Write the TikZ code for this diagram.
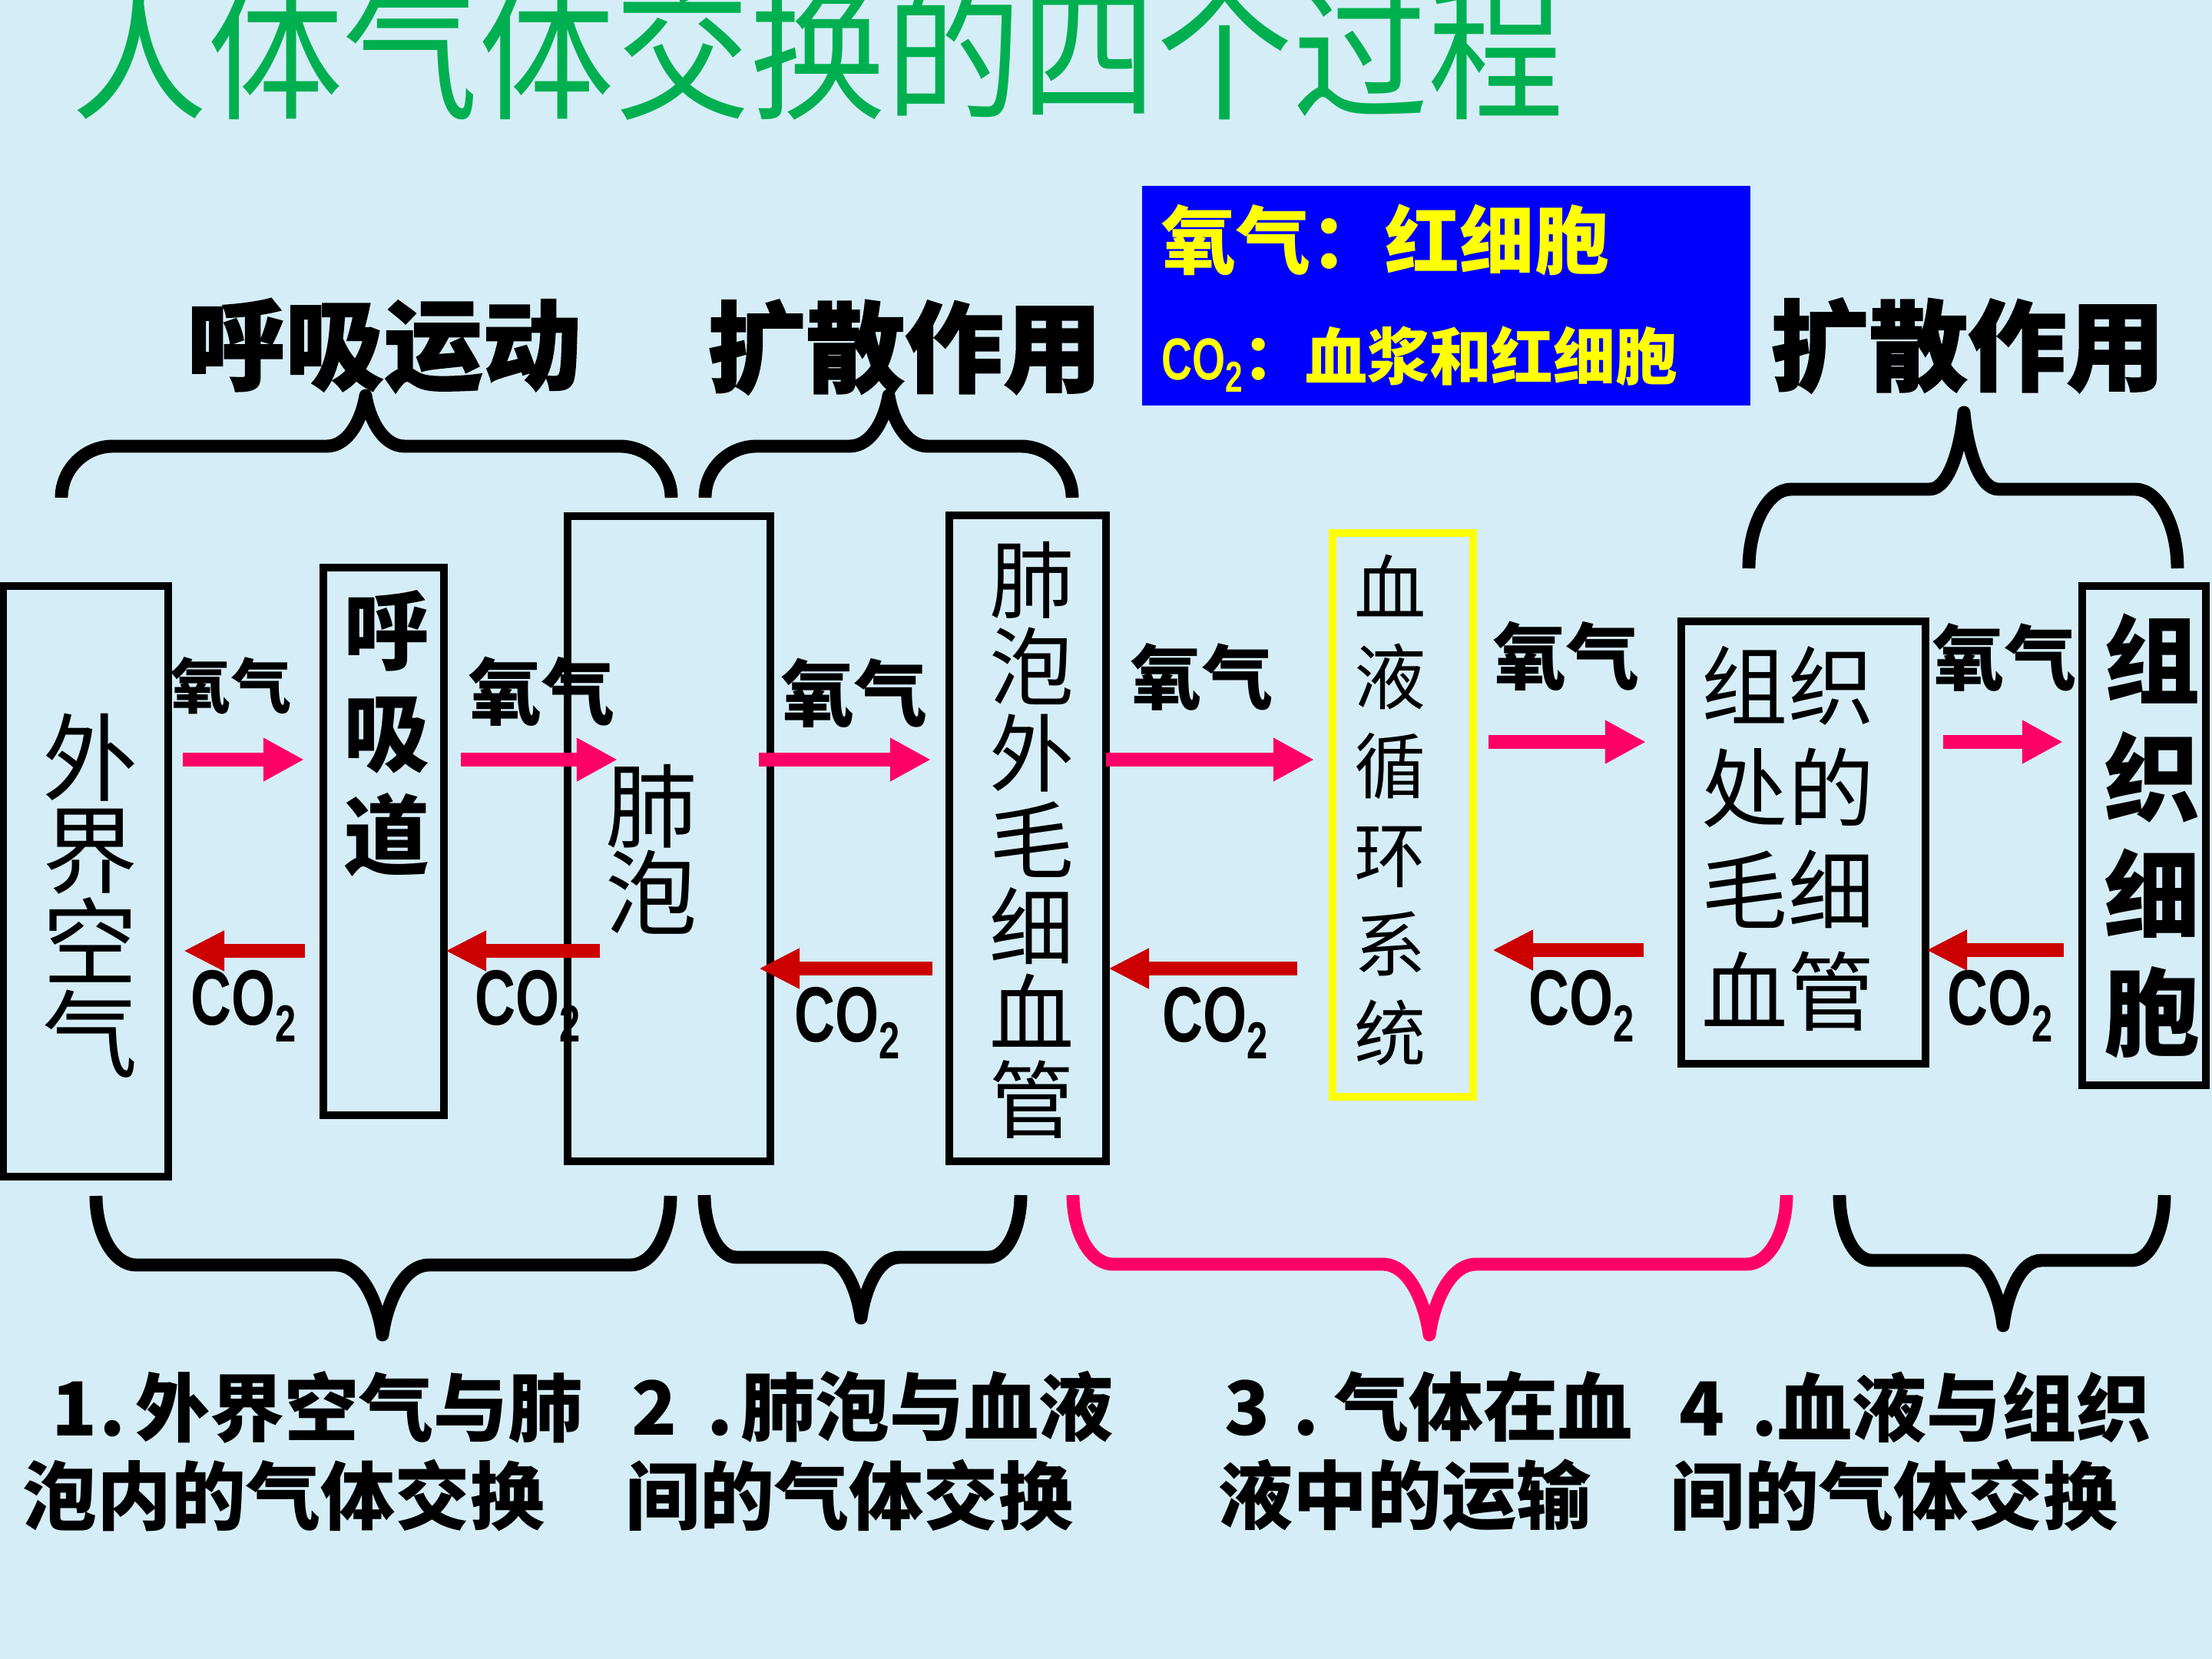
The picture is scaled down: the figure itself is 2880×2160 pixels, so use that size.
\documentclass[tikz,border=0pt]{standalone}
\usepackage{fontspec}
\usetikzlibrary{arrows.meta}
\newfontfamily\cjk{Noto Sans CJK SC}
\newfontfamily\cjkH[FakeBold=1.5]{Noto Sans CJK SC}
\newfontfamily\cjkT[FakeStretch=0.9]{Noto Sans CJK SC}
\newfontfamily\cofont[FakeStretch=0.72]{Liberation Sans}
\definecolor{bg}{RGB}{213,237,247}
\definecolor{ttl}{RGB}{0,176,80}
\definecolor{pinkc}{RGB}{255,0,102}
\definecolor{redc}{RGB}{204,0,0}
\definecolor{bluec}{RGB}{0,0,255}
\definecolor{yel}{RGB}{255,255,0}
\newcommand\fs[2]{\fontsize{#1}{#2}\selectfont\lineskiplimit=-100pt\relax}
\newcommand\cotwo[3]{{\cofont\bfseries\fontsize{#1}{#1}\selectfont CO\raisebox{-#3}{\fontsize{#2}{#2}\selectfont 2}}}
% brace: #1 L, #2 R, #3 M, #4 arm end y, #5 band y, #6 tip y, #7 r, #8 s, #9 colour
\newcommand\tbrace[9]{%
\draw[bracestyle, draw=#9] (#1,#4)
 .. controls (#1,{#4+0.55*(#5-#4)}) and ({#1+0.45*#7},#5) .. ({#1+#7},#5)
 -- ({#3-#8},#5)
 .. controls ({#3-0.4*#8},#5) and ({#3-0.08*#8},{#5+0.6*(#6-#5)}) .. (#3,#6)
 .. controls ({#3+0.08*#8},{#5+0.6*(#6-#5)}) and ({#3+0.4*#8},#5) .. ({#3+#8},#5)
 -- ({#2-#7},#5)
 .. controls ({#2-0.45*#7},#5) and (#2,{#4+0.55*(#5-#4)}) .. (#2,#4);}
\begin{document}
\begin{tikzpicture}[x=0.01cm,y=-0.01cm,
  bracestyle/.style={line width=4.8pt, line join=round},
  boxs/.style={draw=black, line width=2.85pt, inner sep=0, fill=none},
  vtext/.style={inner sep=0, align=center},
  o2arr/.style={draw=pinkc, line width=5.1pt, -{Triangle[length=15.1pt,width=15.1pt]}},
  coarr/.style={draw=redc, line width=5.1pt, -{Triangle[length=15.1pt,width=14pt]}},
  o2lab/.style={inner sep=0},
  colab/.style={anchor=base west, inner sep=0},
  toplab/.style={inner sep=0, font=\cjkH\bfseries\fs{36.5}{40}},
  btxt/.style={anchor=west, inner sep=0, font=\cjk\bfseries\fs{27.6}{30}}]
\useasboundingbox (0,0) rectangle (2880,2160);
\fill[bg] (0,0) rectangle (2880,2160);
\clip (0,0) rectangle (2880,2160);

% title
\node[anchor=south west, inner sep=0, text=ttl, font=\cjkT\fs{55.8}{60}] (title) at (93,157) {人体气体交换的四个过程};

% info box
\node[fill=bluec, inner sep=0, minimum width=7.92cm, minimum height=2.86cm] (info) at (1883,385) {};
\node[anchor=west, inner sep=0, text=yel, font=\cjk\bfseries\fs{27.6}{30}] (info1) at (1512,312) {氧气：红细胞};
\node[anchor=base west, inner sep=0, text=yel, font=\cjk\bfseries\fs{23}{25}] (info2) at (1512,494) {\cotwo{21.9}{16}{4.8pt}：血浆和红细胞};

% top labels
\node[toplab] (lab1) at (500,450) {呼吸运动};
\node[toplab] (lab2) at (1178,452) {扩散作用};
\node[toplab] (lab3) at (2562,450) {扩散作用};

% top braces
\tbrace{80}{874}{476}{648}{581}{515}{67}{51}{black}
\tbrace{918}{1396}{1157}{648}{581}{515}{67}{51}{black}
\tbrace{2277}{2835}{2557}{740}{637}{537}{55}{45}{black}

% boxes
\node[boxs, minimum width=2.15cm, minimum height=7.69cm] (b1) at (111.5,1147.5) {};
\node[boxs, minimum width=1.57cm, minimum height=7.13cm] (b2) at (499.5,1095.5) {};
\node[boxs, minimum width=2.64cm, minimum height=8.40cm] (b3) at (871,1092) {};
\node[boxs, minimum width=2.04cm, minimum height=8.41cm] (b4) at (1338,1091.5) {};
\node[boxs, draw=yel, minimum width=1.83cm, minimum height=7.34cm] (b5) at (1826.5,1061) {};
\node[boxs, minimum width=3.18cm, minimum height=5.76cm] (b6) at (2348,1097) {};
\node[boxs, minimum width=1.61cm, minimum height=6.50cm] (b7) at (2791.5,1088) {};

% box texts
\node[vtext, font=\cjk\fs{35.3}{34.1}] (t1) at (118,1166) {外\\界\\空\\气};
\node[vtext, font=\cjk\bfseries\fs{31.9}{37.8}] (t2) at (504,955) {呼\\吸\\道};
\node[vtext, font=\cjk\fs{34}{32}] (t3) at (848,1106) {肺\\泡};
\node[vtext, font=\cjk\fs{31.3}{32.1}] (t4) at (1344,1094) {肺\\泡\\外\\毛\\细\\血\\管};
\node[vtext, font=\cjk\fs{26.5}{33}] (t5) at (1810,1055) {血\\液\\循\\环\\系\\统};
\node[vtext, font=\cjk\fs{31.9}{37.8}] (t6) at (2328,1092) {组织\\处的\\毛细\\血管};
\node[vtext, font=\cjk\bfseries\fs{35.6}{43.5}] (t7) at (2802,1088) {组\\织\\细\\胞};

% arrow end points
\coordinate (p1s) at (238,989);  \coordinate (p1e) at (396,989);
\coordinate (p2s) at (600,989);  \coordinate (p2e) at (804,989);
\coordinate (p3s) at (988,989);  \coordinate (p3e) at (1212,989);
\coordinate (p4s) at (1440,989); \coordinate (p4e) at (1711,989);
\coordinate (p5s) at (1938,966); \coordinate (p5e) at (2143,966);
\coordinate (p6s) at (2530,966); \coordinate (p6e) at (2686,966);
\coordinate (r1s) at (397,1238);  \coordinate (r1e) at (239,1238);
\coordinate (r2s) at (781,1238);  \coordinate (r2e) at (580,1238);
\coordinate (r3s) at (1214,1261); \coordinate (r3e) at (988,1261);
\coordinate (r4s) at (1689,1261); \coordinate (r4e) at (1443,1261);
\coordinate (r5s) at (2140,1237); \coordinate (r5e) at (1943,1237);
\coordinate (r6s) at (2687,1237); \coordinate (r6e) at (2508,1237);
\foreach \i in {1,...,6}{\draw[o2arr] (p\i s) -- (p\i e); \draw[coarr] (r\i s) -- (r\i e);}

% oxygen labels
\node[o2lab, font=\cjk\bfseries\fs{22.2}{24}] (o1) at (301,893) {氧气};
\node[o2lab, font=\cjk\bfseries\fs{27}{29}] (o2) at (705,900) {氧气};
\node[o2lab, font=\cjk\bfseries\fs{27}{29}] (o3) at (1112,902) {氧气};
\node[o2lab, font=\cjk\bfseries\fs{26.2}{29}] (o4) at (1565,881) {氧气};
\node[o2lab, font=\cjk\bfseries\fs{27}{29}] (o5) at (2039,854) {氧气};
\node[o2lab, font=\cjk\bfseries\fs{26.5}{29}] (o6) at (2610,856) {氧气};

% CO2 labels
\node[colab] (c1) at (248,1334) {\cotwo{29}{19.3}{6.3pt}};
\node[colab] (c2) at (618,1334) {\cotwo{29}{19.3}{6.3pt}};
\node[colab] (c3) at (1034,1356) {\cotwo{29}{19.3}{6.3pt}};
\node[colab] (c4) at (1513,1356) {\cotwo{29}{19.3}{6.3pt}};
\node[colab] (c5) at (1990,1334) {\cotwo{29}{19.3}{6.3pt}};
\node[colab] (c6) at (2535,1334) {\cotwo{29}{19.3}{6.3pt}};

% bottom braces
\tbrace{125}{873}{498}{1557}{1647}{1738}{52}{61}{black}
\tbrace{917}{1329}{1121}{1556}{1637}{1716}{42}{50}{black}
\tbrace{1397}{2326}{1861}{1556}{1646}{1738}{52}{61}{pinkc}
\tbrace{2395}{2818}{2608}{1556}{1641}{1726}{42}{50}{black}

% bottom texts
\node[btxt] (g1a) at (67,1832) {1\hspace{0.03em}.\hspace{0.13em}外界空气与肺};
\node[btxt] (g1b) at (29,1947) {泡内的气体交换};
\node[btxt] (g2a) at (822,1832) {2\hspace{0.4em}.\hspace{0.1em}肺泡与血液};
\node[btxt] (g2b) at (814,1947) {间的气体交换};
\node[btxt] (g3a) at (1594,1832) {3\hspace{0.31em}.\hspace{0.2em}气体在血};
\node[btxt] (g3b) at (1586,1947) {液中的运输};
\node[btxt] (g4a) at (2186,1832) {4\hspace{0.36em}.\hspace{0em}血液与组织};
\node[btxt] (g4b) at (2174,1947) {间的气体交换};
\end{tikzpicture}
\end{document}
